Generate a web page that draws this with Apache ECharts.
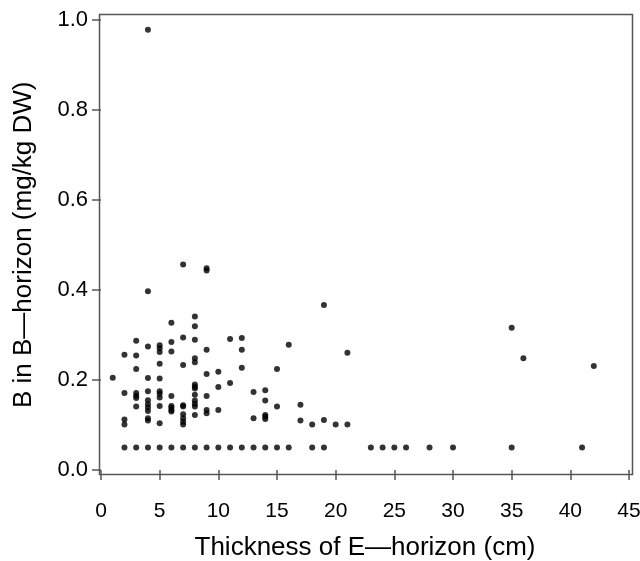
<!DOCTYPE html>
<html>
<head>
<meta charset="utf-8">
<script src="https://cdn.jsdelivr.net/npm/echarts@6/dist/echarts.min.js"></script>
<style>html,body{margin:0;padding:0;background:#fff}#c{width:640px;height:561px}</style>
</head>
<body>
<div id="c"></div>
<script>
// Thickness of E-horizon (cm)
const thickness = [
  1,
  2,2,2,2,2,
  3,3,3,3,3,3,3,3,
  4,4,4,4,4,4,4,4,4,4,4,4,
  5,5,5,5,5,5,5,5,5,5,5,
  6,6,6,6,6,6,6,6,6,
  7,7,7,7,7,7,7,7,7,7,
  8,8,8,8,8,8,8,8,8,8,8,8,8,8,
  9,9,9,9,9,9,9,9,
  10,10,10,10,
  11,11,11,
  12,12,12,12,
  13,13,13,
  14,14,14,14,14,14,
  15,15,15,
  16,16,
  17,17,
  18,18,
  19,19,19,
  20,
  21,21,
  23,24,25,26,28,30,
  35,35,
  36,
  41,
  42
];
// B in B-horizon (mg/kg DW)
const boron = [
  0.205,
  0.256,0.171,0.112,0.101,0.050,
  0.287,0.254,0.224,0.171,0.165,0.160,0.141,0.050,
  0.977,0.397,0.274,0.204,0.175,0.155,0.146,0.139,0.131,0.115,0.110,0.050,
  0.277,0.270,0.262,0.236,0.203,0.175,0.169,0.161,0.142,0.104,0.050,
  0.327,0.284,0.263,0.164,0.142,0.138,0.133,0.130,0.050,
  0.456,0.294,0.233,0.144,0.141,0.124,0.115,0.107,0.101,0.050,
  0.341,0.319,0.289,0.248,0.239,0.190,0.185,0.181,0.167,0.154,0.147,0.141,0.122,0.050,
  0.448,0.443,0.267,0.213,0.164,0.133,0.126,0.050,
  0.218,0.184,0.133,0.050,
  0.291,0.193,0.050,
  0.293,0.267,0.227,0.050,
  0.173,0.115,0.050,
  0.177,0.154,0.122,0.118,0.113,0.050,
  0.224,0.141,0.050,
  0.278,0.050,
  0.145,0.110,
  0.101,0.050,
  0.366,0.111,0.050,
  0.101,
  0.260,0.101,
  0.050,0.050,0.050,0.050,0.050,0.050,
  0.316,0.050,
  0.248,
  0.050,
  0.231
];
const xTitle = 'Thickness of E\u2014horizon (cm)';
const yTitle = 'B in B\u2014horizon (mg/kg DW)';

const points = thickness.map((t, i) => [t, boron[i]]);
const font = '"Liberation Sans", Arial, Helvetica, sans-serif';
const chart = echarts.init(document.getElementById('c'), null, {renderer: 'canvas'});
chart.setOption({
  animation: false,
  grid: {left: 101, right: 11, top: 19.5, bottom: 91, containLabel: false, outerBoundsMode: 'none'},
  graphic: [{
    type: 'rect', z: 10, silent: true,
    shape: {x: 99.5, y: 14.5, width: 533, height: 460},
    style: {fill: 'none', stroke: '#555', lineWidth: 1.5}
  }],
  xAxis: {
    type: 'value', min: 0, max: 45, interval: 5, offset: 5,
    axisLine: {show: false},
    axisTick: {show: true, length: 10, lineStyle: {color: '#555', width: 1.5}},
    splitLine: {show: false},
    axisLabel: {color: '#000', fontSize: 21, fontFamily: font, margin: 26},
    name: xTitle, nameLocation: 'middle', nameGap: 60,
    nameTextStyle: {color: '#000', fontSize: 26, fontFamily: font}
  },
  yAxis: {
    type: 'value', min: 0, max: 1, interval: 0.2, offset: 2,
    axisLine: {show: false},
    axisTick: {show: true, length: 9, lineStyle: {color: '#555', width: 1.5}},
    splitLine: {show: false},
    axisLabel: {color: '#000', fontSize: 22, fontFamily: font, margin: 11,
      formatter: v => v.toFixed(1)},
    name: yTitle, nameLocation: 'middle', nameGap: 62,
    nameTextStyle: {color: '#000', fontSize: 26, fontFamily: font}
  },
  series: [{
    type: 'scatter', data: points, symbol: 'circle', symbolSize: 6,
    itemStyle: {color: '#000'}
  }]
});
</script>
</body>
</html>
